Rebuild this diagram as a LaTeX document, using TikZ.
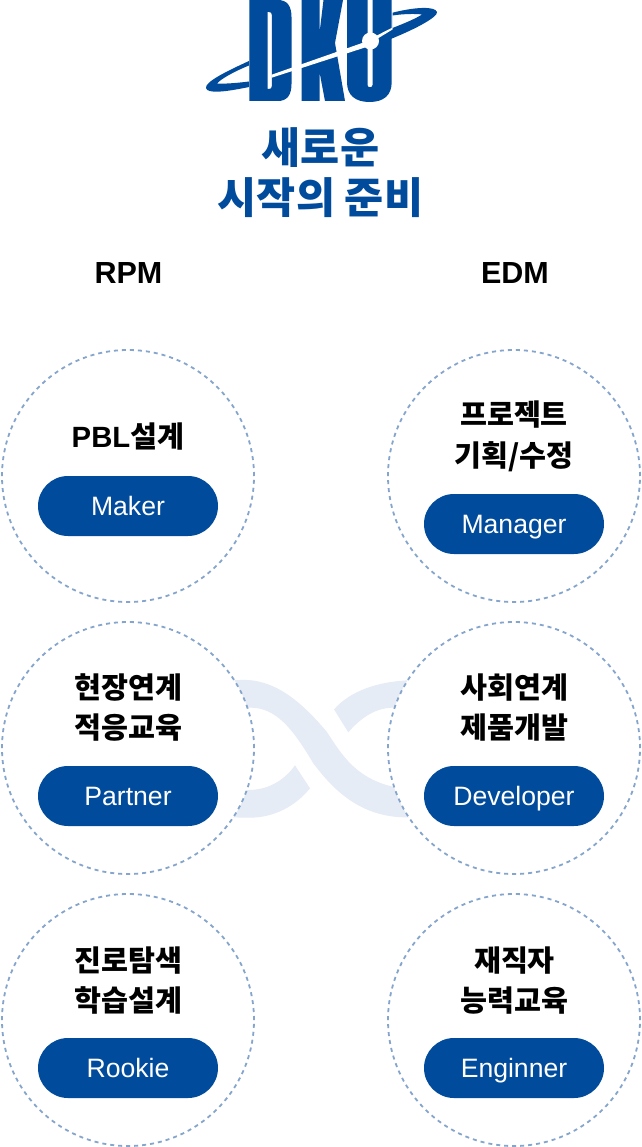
\documentclass[tikz,border=0pt]{standalone}
\usepackage{fontspec}
\setmainfont{Noto Sans CJK KR}
\newfontfamily\latinfont{Liberation Sans}
\definecolor{dkublue}{HTML}{004B9B}
\definecolor{ringdash}{HTML}{85A5CD}
\definecolor{ribbon}{HTML}{E6ECF5}
\usetikzlibrary{shapes.misc}
\tikzset{
  ringnode/.style={circle,draw=ringdash,fill=white,line width=1.8pt,dash pattern=on 4pt off 4pt,minimum size=252pt,inner sep=0pt},
  pillnode/.style={rounded rectangle,fill=dkublue,text=white,minimum width=180pt,minimum height=60pt,inner sep=0pt,text height=21pt,text depth=3pt,font=\latinfont\fontsize{26.6}{30}\selectfont},
  labelnode/.style={align=center,text=black,inner sep=0pt,font=\fontsize{29.3}{39.5}\selectfont\bfseries},
  headnode/.style={inner sep=0pt,text=black,font=\latinfont\fontsize{30.5}{32}\selectfont\bfseries},
  titlenode/.style={align=center,inner sep=0pt,text=dkublue,font=\fontsize{42.5}{50}\selectfont\bfseries}
}
\begin{document}
\begin{tikzpicture}[x=1pt,y=-1pt]
\useasboundingbox (0,0) rectangle (641,1147);
\fill[white] (0,0) rectangle (641,1147);
% ribbon
\begin{scope}[shift={(220,660)},x=.33333pt,y=-.33333pt,fill=ribbon]
\fill (20,62) -- (60,60) .. controls (160,55) and (240,120) .. (320,215) .. controls (370,290) and (420,385) .. (600,390) -- (600,472) -- (555,472) .. controls (420,470) and (340,390) .. (280,310) .. controls (220,210) and (170,140) .. (85,143) -- (20,143) -- cycle;
\fill (342,148) .. controls (390,95) and (470,60) .. (600,60) -- (600,143) -- (520,143) .. controls (470,143) and (425,170) .. (385,217) -- cycle;
\fill (225,316) .. controls (190,365) and (140,390) .. (85,390) -- (20,390) -- (20,472) -- (90,473) .. controls (160,473) and (225,440) .. (270,385) -- cycle;
\end{scope}
% logo
\fill[dkublue,even odd rule] (249,61) .. controls (225,72) and (205,82) .. (206,88) .. controls (207,94) and (225,92) .. (249,87) -- cycle
  (249,65.5) .. controls (233,72) and (221,79) .. (217,83.5) .. controls (225,84) and (237,83) .. (249,81.5) -- cycle;
\fill[dkublue,even odd rule] (392.5,12.7) .. controls (415,7) and (435,6) .. (437,12) .. controls (438,17) and (415,30) .. (378,44) -- (370,38) -- (392.5,28) -- cycle
  (392.5,15.5) .. controls (402,14) and (415,13.5) .. (422,14.5) .. controls (415,19) and (404,23.5) .. (392.5,28) -- cycle;
\fill[dkublue,even odd rule] (249.3,0) -- (278,0) .. controls (287,0) and (291.5,6) .. (291.5,17) -- (291.5,84) .. controls (291.5,95) and (287,101) .. (278,101) -- (249.3,101) -- cycle
  (267.5,12) -- (269,12) .. controls (271,12) and (271.8,13) .. (271.8,15) -- (271.8,86) .. controls (271.8,88) and (271,89) .. (269,89) -- (267.5,89) -- cycle;
\fill[dkublue] (301.5,0) -- (319.5,0) -- (319.5,33) -- (323.5,0) -- (343,0) -- (335,43) -- (345,101) -- (325,101) -- (319.5,72) -- (319.5,101) -- (301.5,101) -- cycle;
\fill[dkublue] (347,0) -- (367.5,0) -- (367.5,85) .. controls (367.5,88) and (372.5,88) .. (372.5,85) -- (372.5,0) -- (391.7,0) -- (391.7,82) .. controls (391.7,95) and (384,102) .. (369.5,102) .. controls (355,102) and (347,95) .. (347,82) -- cycle;
\fill[white] (271.7,74.7) -- (365,42) -- (365,47.5) -- (271.7,77.7) -- cycle;
\fill[white] (372,38) -- (392.5,27.5) -- (392.5,29.5) -- (372,42) -- cycle;
\fill[white] (370.5,41) circle (8.5);
% text
\node[titlenode] (title) at (320.5,173) {새로운\\시작의 준비};
\node[headnode] (rpm) at (128.5,273) {RPM};
\node[headnode] (edm) at (515,273) {EDM};
% circles
\node[ringnode] (c1) at (128,476) {};
\node[ringnode] (c2) at (514,476) {};
\node[ringnode] (c3) at (128,748) {};
\node[ringnode] (c4) at (514,748) {};
\node[ringnode] (c5) at (128,1020) {};
\node[ringnode] (c6) at (514,1020) {};
% pills
\node[pillnode] (p1) at (128,506) {Maker};
\node[pillnode] (p2) at (514,524) {Manager};
\node[pillnode] (p3) at (128,796) {Partner};
\node[pillnode] (p4) at (514,796) {Developer};
\node[pillnode] (p5) at (128,1068) {Rookie};
\node[pillnode] (p6) at (514,1068) {Enginner};
% labels
\node[labelnode] (l1) at (128,437) {{\latinfont PBL}설계};
\node[labelnode] (l2) at (514,436.5) {프로젝트\\[1.5pt]기획/수정};
\node[labelnode] (l3) at (128.5,707.5) {현장연계\\적응교육};
\node[labelnode] (l4) at (514.5,707.5) {사회연계\\제품개발};
\node[labelnode] (l5) at (128.5,980.5) {진로탐색\\학습설계};
\node[labelnode] (l6) at (514.5,980.5) {재직자\\능력교육};
\end{tikzpicture}
\end{document}
